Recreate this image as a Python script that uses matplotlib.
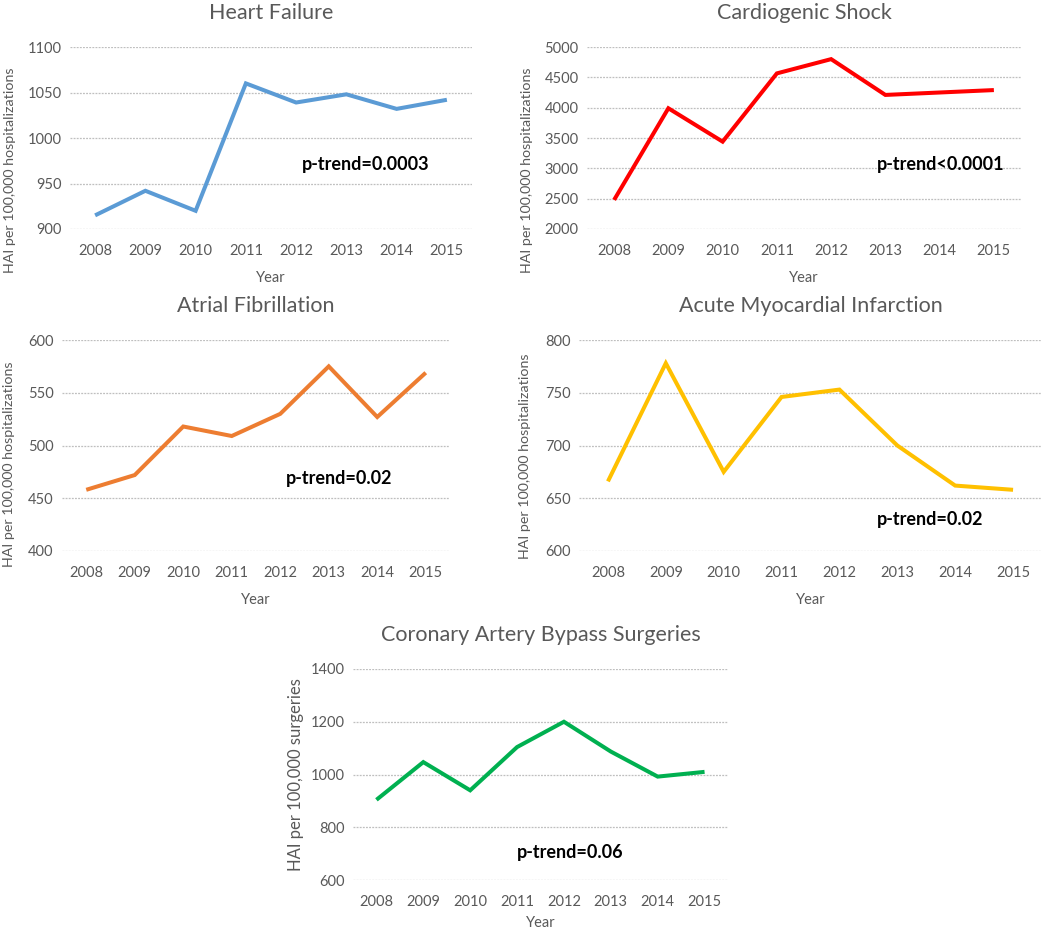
import matplotlib.pyplot as plt

plt.rcParams['font.family'] = ['Lato', 'DejaVu Sans']

years = ['2008', '2009', '2010', '2011', '2012', '2013', '2014', '2015']

hf = [915, 942, 920, 1060, 1039, 1048, 1032, 1042]
cs = [2480, 3990, 3440, 4565, 4800, 4210, 4250, 4290]
af = [458, 472, 518, 509, 530, 575, 527, 569]
ami = [666, 778, 675, 746, 753, 700, 662, 658]
cabg = [904, 1047, 940, 1104, 1200, 1087, 992, 1010]

titles = ['Heart Failure', 'Cardiogenic Shock', 'Atrial Fibrillation',
          'Acute Myocardial Infarction', 'Coronary Artery Bypass Surgeries']
ylabels = ['HAI per 100,000 hospitalizations'] * 4 + ['HAI per 100,000 surgeries']
ptrend = ['p-trend=0.0003', 'p-trend<0.0001', 'p-trend=0.02', 'p-trend=0.02', 'p-trend=0.06']
colors = ['#5B9BD5', '#FF0000', '#ED7D31', '#FFC000', '#00B050']
yticks = [[900, 950, 1000, 1050, 1100],
          [2000, 2500, 3000, 3500, 4000, 4500, 5000],
          [400, 450, 500, 550, 600],
          [600, 650, 700, 750, 800],
          [600, 800, 1000, 1200, 1400]]
series = [hf, cs, af, ami, cabg]

W, H = 1050, 932
# pixel boxes: left, right, top, bottom
boxes = [(70, 472, 47, 229), (587, 1021, 47, 229),
         (62, 450, 340, 551), (579, 1042, 340, 551),
         (353, 728, 669, 880)]
# p-trend text positions (data coords: x index, y value)
ppos = [(4.12, 971), (4.85, 3055), (4.12, 469), (4.65, 630), (3.0, 706)]
ylab_x = [10, 527, 9, 525, 296]
ylab_y = [170, 170, 464, 456, 775]
ylab_fs = [10.3, 10.3, 10.3, 10.3, 12]
xlab_pad = [9, 9, 9, 9, 5]

fig = plt.figure(figsize=(W / 100, H / 100), dpi=100)
gray = '#595959'

for i in range(5):
    l, r, t, b = boxes[i]
    ax = fig.add_axes([l / W, 1 - b / H, (r - l) / W, (b - t) / H])
    x = list(range(len(years)))
    ax.plot(x, series[i], color=colors[i], lw=2.9, solid_capstyle='butt', solid_joinstyle='miter')
    ax.set_xlim(-0.5, 7.5)
    ax.set_ylim(yticks[i][0], yticks[i][-1])
    ax.set_yticks(yticks[i])
    ax.set_xticks(x)
    ax.set_xticklabels(years)
    ax.grid(axis='y', color='#BFBFBF', ls=(0, (1.5, 1)), lw=0.9)
    ax.set_axisbelow(True)
    for s in ax.spines.values():
        s.set_visible(False)
    ax.tick_params(length=0, labelsize=10.5, colors=gray, pad=11)
    ax.tick_params(axis='y', pad=6)
    ax.set_title(titles[i], fontsize=15.5, color=gray, pad=20)
    ax.set_xlabel('Year', fontsize=10.5, color=gray, labelpad=xlab_pad[i])
    fig.text(ylab_x[i] / W, 1 - ylab_y[i] / H, ylabels[i], rotation=90,
             fontsize=ylab_fs[i], color=gray, ha='center', va='center')
    ax.text(ppos[i][0], ppos[i][1], ptrend[i], fontsize=13, fontweight='bold',
            color='black', ha='left', va='center')

fig.savefig('out.png', dpi=100)
